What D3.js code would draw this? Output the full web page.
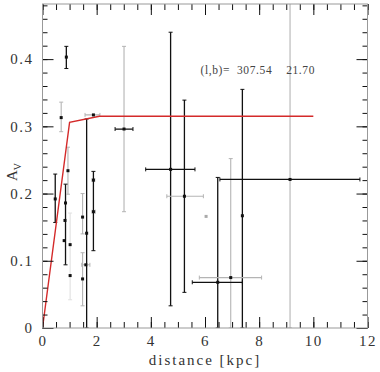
<!DOCTYPE html>
<html>
<head>
<meta charset="utf-8">
<script src="https://cdn.jsdelivr.net/npm/d3@7"></script>
<style>
  body { margin: 0; background: #fff; }
  text { font-family: "Liberation Serif", "DejaVu Serif", serif; }
</style>
</head>
<body>
<svg id="chart"></svg>
<script>
// distance [kpc] and extinction A_V for each star
const dist   = [0.47, 0.69, 0.88, 0.94, 0.85, 0.80, 0.83, 1.02, 1.02, 1.48, 1.48, 1.63, 1.60, 1.88, 1.88, 1.88, 3.01, 4.73, 5.24, 6.47, 7.38, 6.95, 9.14, 6.04];
const av     = [0.192, 0.313, 0.403, 0.234, 0.186, 0.130, 0.160, 0.124, 0.078, 0.073, 0.165, 0.141, 0.094, 0.220, 0.173, 0.317, 0.296, 0.236, 0.196, 0.068, 0.167, 0.075, 0.221, 0.166];
const avLo   = [0.157, 0.292, 0.386, 0.199, 0.094, null, null, null, 0.042, 0.033, 0.140, 0, null, 0.115, null, null, 0.173, 0.033, 0.053, 0, 0, 0, 0, null];
const avHi   = [0.229, 0.336, 0.419, 0.269, 0.214, null, null, null, 0.171, 0.112, 0.200, 0.311, null, 0.233, null, null, 0.419, 0.440, 0.339, 0.224, 0.355, 0.252, 0.50, null];
const avTone = ["k", "g", "k", "g", "k", "k", "k", "k", "l", "g", "g", "k", "g", "k", "g", "g", "g", "k", "k", "k", "k", "g", "g", "g"];
const dLo    = [null, null, null, null, null, null, null, null, null, null, null, null, 1.45, 1.83, 1.83, 1.57, 2.68, 3.81, 4.59, 5.53, null, 5.79, 6.55, null];
const dHi    = [null, null, null, null, null, null, null, null, null, null, null, null, 1.75, 1.93, 1.95, 2.12, 3.34, 5.63, 5.94, 7.38, null, 8.09, 11.72, null];
const dTone  = ["k", "k", "k", "k", "k", "k", "k", "k", "k", "k", "k", "k", "g", "g", "g", "g", "k", "k", "g", "k", "k", "g", "k", "k"];

// extinction model (red curve)
const modelDist = [0, 1.0, 2.1, 10];
const modelAv   = [0, 0.306, 0.315, 0.315];

const xTicks = [0, 2, 4, 6, 8, 10, 12];
const yTicks = [0, 0.1, 0.2, 0.3, 0.4];
const lbText = "(l,b)=  307.54    21.70";

const W = 380, H = 372;
const margin = {top: 4, right: 12.5, bottom: 44, left: 42.5};
const iw = W - margin.left - margin.right;
const ih = H - margin.top - margin.bottom;

const svg = d3.select("#chart").attr("width", W).attr("height", H);
const g = svg.append("g").attr("transform", "translate(" + margin.left + "," + margin.top + ")");

const x = d3.scaleLinear().domain([0, 12]).range([0, iw]);
const y = d3.scaleLinear().domain([0, 0.482]).range([ih, 0]);

const tone = {k: "#111", g: "#b4b4b4", l: "#e0e0e0"};

// clip so the long bars stay inside the frame
g.append("clipPath").attr("id", "clip")
  .append("rect").attr("width", iw).attr("height", ih);
const plot = g.append("g").attr("clip-path", "url(#clip)");

// axes: inward ticks on all four sides
function styleAxis(sel) {
  sel.select(".domain").remove();
  sel.selectAll(".tick line").attr("stroke", "#111");
}
const xMinor = d3.range(0, 12.01, 0.5);
const yMinor = d3.range(0, 0.481, 0.02);

g.append("g").attr("transform", "translate(0," + ih + ")")
  .call(d3.axisBottom(x).tickValues(xMinor).tickSize(-6).tickFormat("")).call(styleAxis);
g.append("g").attr("transform", "translate(0," + ih + ")")
  .call(d3.axisBottom(x).tickValues(xTicks).tickSize(-11).tickPadding(6).tickFormat(d3.format("d")))
  .call(styleAxis)
  .selectAll("text").attr("font-size", 15).attr("fill", "#333")
  .attr("letter-spacing", 1.5).attr("dy", "0.8em");
g.append("g")
  .call(d3.axisTop(x).tickValues(xMinor).tickSize(-6).tickFormat("")).call(styleAxis);
g.append("g")
  .call(d3.axisTop(x).tickValues(xTicks).tickSize(-11).tickFormat("")).call(styleAxis);

g.append("g")
  .call(d3.axisLeft(y).tickValues(yMinor).tickSize(-5).tickFormat("")).call(styleAxis);
g.append("g")
  .call(d3.axisLeft(y).tickValues(yTicks).tickSize(-11).tickPadding(9).tickFormat(d => d === 0 ? "0" : d3.format(".1f")(d)))
  .call(styleAxis)
  .selectAll("text").attr("font-size", 15).attr("fill", "#333").attr("letter-spacing", 1.5);
g.append("g").attr("transform", "translate(" + iw + ",0)")
  .call(d3.axisRight(y).tickValues(yMinor).tickSize(-5).tickFormat("")).call(styleAxis);
g.append("g").attr("transform", "translate(" + iw + ",0)")
  .call(d3.axisRight(y).tickValues(yTicks).tickSize(-11).tickFormat("")).call(styleAxis);

// frame
g.append("rect").attr("width", iw).attr("height", ih)
  .attr("fill", "none").attr("stroke", "#999").attr("stroke-width", 1);

const idx = d3.range(dist.length);

// vertical error bars
const vb = idx.filter(i => avLo[i] !== null);
plot.selectAll(".vbar").data(vb).enter().append("line")
  .attr("x1", i => x(dist[i])).attr("x2", i => x(dist[i]))
  .attr("y1", i => y(avLo[i])).attr("y2", i => y(avHi[i]))
  .attr("stroke", i => tone[avTone[i]]).attr("stroke-width", i => avTone[i] === "k" ? 1.3 : 1.1);
plot.selectAll(".vcap").data(vb.flatMap(i => [[i, avLo[i]], [i, avHi[i]]])).enter().append("line")
  .attr("x1", d => x(dist[d[0]]) - 2).attr("x2", d => x(dist[d[0]]) + 2)
  .attr("y1", d => y(d[1])).attr("y2", d => y(d[1]))
  .attr("stroke", d => tone[avTone[d[0]]]).attr("stroke-width", 1);

// horizontal error bars
const hb = idx.filter(i => dLo[i] !== null);
plot.selectAll(".hbar").data(hb).enter().append("line")
  .attr("x1", i => x(dLo[i])).attr("x2", i => x(dHi[i]))
  .attr("y1", i => y(av[i])).attr("y2", i => y(av[i]))
  .attr("stroke", i => tone[dTone[i]]).attr("stroke-width", i => dTone[i] === "k" ? 1.3 : 1.1);
plot.selectAll(".hcap").data(hb.flatMap(i => [[i, dLo[i]], [i, dHi[i]]])).enter().append("line")
  .attr("x1", d => x(d[1])).attr("x2", d => x(d[1]))
  .attr("y1", d => y(av[d[0]]) - 2).attr("y2", d => y(av[d[0]]) + 2)
  .attr("stroke", d => tone[dTone[d[0]]]).attr("stroke-width", 1);

// red model line
plot.append("path")
  .datum(d3.zip(modelDist, modelAv))
  .attr("fill", "none").attr("stroke", "#d42a2a").attr("stroke-width", 1.4)
  .attr("d", d3.line().x(d => x(d[0])).y(d => y(d[1])));

// points
plot.selectAll(".pt").data(idx).enter().append("rect")
  .attr("x", i => x(dist[i]) - 1.5).attr("y", i => y(av[i]) - 1.5)
  .attr("width", 3).attr("height", 3)
  .attr("fill", i => i === 23 ? "#aaa" : "#111");

// labels
g.append("text").attr("x", 158).attr("y", 70)
  .attr("font-size", 11.5).attr("fill", "#444").attr("letter-spacing", 0.6)
  .style("white-space", "pre").text(lbText);

svg.append("text")
  .attr("x", margin.left + iw / 2).attr("y", 365)
  .attr("text-anchor", "middle").attr("font-size", 15).attr("fill", "#333")
  .attr("letter-spacing", 2)
  .text("distance [kpc]");

const yl = svg.append("text")
  .attr("transform", "translate(17," + (margin.top + ih / 2 + 6) + ") rotate(-90)")
  .attr("text-anchor", "middle").attr("font-size", 15).attr("fill", "#333");
yl.append("tspan").text("A");
yl.append("tspan").attr("font-size", 10).attr("dy", 4).text("V");
</script>
</body>
</html>
